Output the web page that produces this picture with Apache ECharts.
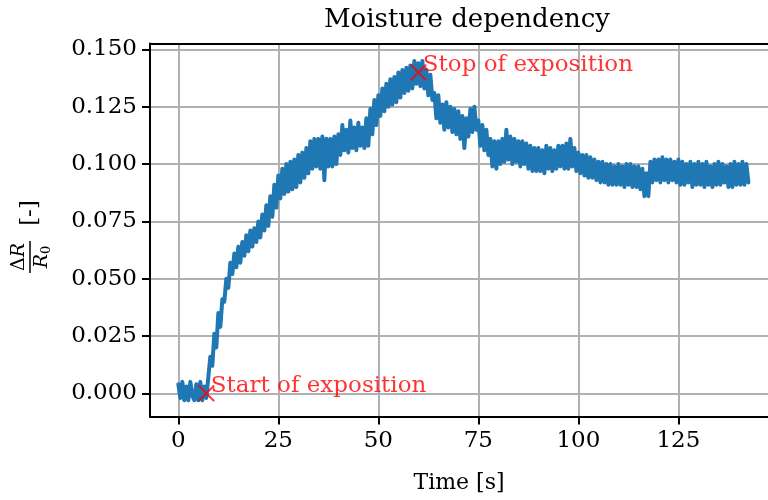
<!DOCTYPE html>
<html>
<head>
<meta charset="utf-8">
<script src="https://cdn.jsdelivr.net/npm/echarts@6/dist/echarts.min.js"></script>
<style>html,body{margin:0;padding:0;background:#fff;}#c{width:768px;height:500px;}</style>
</head>
<body>
<div id="c"></div>
<script>
// Sampling interval of the measurement [s]
const sampleStep = 0.5;
// ΔR/R0 readings, one every 0.5 s starting at t = 0 s (grouped by 10 s)
const dR_00 = [0.004,-0.002,0.005,-0.003,0.003,-0.003,0.005,-0.001,-0.003,0.004,-0.003,0.005,-0.003,0.003,-0.002,0.007,0.016,0.012,0.026,0.020];
const dR_10 = [0.035,0.029,0.041,0.040,0.050,0.046,0.057,0.052,0.061,0.055,0.064,0.057,0.066,0.060,0.069,0.062,0.071,0.064,0.072,0.066];
const dR_20 = [0.075,0.068,0.078,0.071,0.082,0.073,0.086,0.077,0.091,0.081,0.095,0.085,0.098,0.087,0.100,0.088,0.101,0.089,0.102,0.090];
const dR_30 = [0.104,0.092,0.105,0.094,0.107,0.096,0.110,0.098,0.111,0.099,0.111,0.098,0.112,0.093,0.111,0.099,0.111,0.099,0.112,0.100];
const dR_40 = [0.113,0.104,0.117,0.106,0.115,0.105,0.119,0.107,0.116,0.106,0.118,0.108,0.116,0.107,0.120,0.108,0.124,0.113,0.128,0.117];
const dR_50 = [0.130,0.121,0.133,0.123,0.135,0.125,0.137,0.126,0.138,0.127,0.140,0.129,0.141,0.131,0.142,0.132,0.143,0.133,0.145,0.135];
const dR_60 = [0.144,0.134,0.145,0.133,0.141,0.130,0.139,0.128,0.131,0.120,0.130,0.118,0.126,0.115,0.127,0.116,0.125,0.114,0.124,0.113];
const dR_70 = [0.123,0.111,0.121,0.107,0.120,0.112,0.124,0.114,0.125,0.115,0.119,0.108,0.117,0.106,0.115,0.104,0.111,0.099,0.110,0.098];
const dR_80 = [0.110,0.100,0.111,0.101,0.115,0.102,0.112,0.100,0.111,0.101,0.110,0.099,0.110,0.100,0.109,0.098,0.108,0.097,0.107,0.097];
const dR_90 = [0.107,0.097,0.106,0.096,0.108,0.098,0.107,0.097,0.106,0.098,0.108,0.099,0.108,0.098,0.109,0.098,0.111,0.099,0.107,0.097];
const dR_100 = [0.105,0.096,0.104,0.095,0.104,0.094,0.103,0.094,0.102,0.093,0.101,0.092,0.101,0.092,0.100,0.091,0.100,0.091,0.099,0.091];
const dR_110 = [0.100,0.091,0.099,0.090,0.100,0.091,0.100,0.090,0.099,0.090,0.099,0.089,0.098,0.086,0.096,0.086,0.101,0.092,0.102,0.093];
const dR_120 = [0.102,0.092,0.103,0.093,0.102,0.092,0.102,0.093,0.101,0.092,0.102,0.091,0.101,0.091,0.100,0.092,0.101,0.090,0.100,0.091];
const dR_130 = [0.101,0.091,0.100,0.090,0.101,0.091,0.099,0.090,0.100,0.091,0.101,0.091,0.100,0.092,0.099,0.090,0.100,0.090,0.101,0.091];
const dR_140 = [0.100,0.091,0.101,0.091,0.100,0.092];

// Annotated events
const eventNames = ['Start of exposition', 'Stop of exposition'];
const eventTimes = [7, 60];
const eventValues = [0.000, 0.140];

// Tick labels
const xTicks = [0, 25, 50, 75, 100, 125];
const yTicks = [0.000, 0.025, 0.050, 0.075, 0.100, 0.125, 0.150];

const readings = [].concat(dR_00, dR_10, dR_20, dR_30, dR_40, dR_50, dR_60, dR_70, dR_80, dR_90, dR_100, dR_110, dR_120, dR_130, dR_140);
const lineData = readings.map((v, i) => [i * sampleStep, v]);
const eventData = eventTimes.map((t, i) => ({ value: [t, eventValues[i]], name: eventNames[i] }));

const FONT = 'DejaVu Serif';
const XMIN = -7.08, XMAX = 147.4, YMIN = -0.0101, YMAX = 0.1526;

const chart = echarts.init(document.getElementById('c'), null, { renderer: 'canvas' });
chart.setOption({
  animation: false,
  backgroundColor: '#fff',
  title: {
    text: 'Moisture dependency',
    left: 462, top: 2, textAlign: 'center',
    textStyle: { fontFamily: FONT, fontSize: 26, fontWeight: 'normal', color: '#000' }
  },
  grid: { left: 150, right: 0, top: 43.5, bottom: 83.5, show: false },
  xAxis: [{
    type: 'value', min: XMIN, max: XMAX, position: 'bottom',
    name: 'Time [s]', nameLocation: 'middle', nameGap: 56,
    nameTextStyle: { fontFamily: FONT, fontSize: 22, color: '#000' },
    axisLine: { show: true, onZero: false, lineStyle: { color: '#000', width: 2 } },
    axisTick: { show: true, inside: false, length: 8, lineStyle: { color: '#000', width: 2 }, customValues: xTicks },
    axisLabel: { customValues: xTicks, margin: 13, fontFamily: FONT, fontSize: 23, color: '#000', showMinLabel: true, showMaxLabel: true },
    splitLine: { show: true, lineStyle: { color: '#b0b0b0', width: 2 } }
  }, {
    type: 'value', min: XMIN, max: XMAX, position: 'top',
    axisLine: { show: true, onZero: false, lineStyle: { color: '#000', width: 2 } },
    axisTick: { show: false }, axisLabel: { show: false }, splitLine: { show: false }
  }],
  yAxis: {
    type: 'value', min: YMIN, max: YMAX,
    axisLine: { show: true, onZero: false, lineStyle: { color: '#000', width: 2 } },
    axisTick: { show: true, inside: false, length: 8, lineStyle: { color: '#000', width: 2 }, customValues: yTicks },
    axisLabel: { customValues: yTicks, margin: 13, fontFamily: FONT, fontSize: 23, color: '#000', formatter: v => v.toFixed(3) },
    splitLine: { show: true, lineStyle: { color: '#b0b0b0', width: 2 } }
  },
  series: [{
    type: 'line', data: lineData, xAxisIndex: 0, showSymbol: false, symbol: 'none',
    lineStyle: { color: '#1f77b4', width: 4, join: 'round', cap: 'round' },
    z: 3, clip: true
  }, {
    type: 'scatter', data: eventData, xAxisIndex: 0, z: 5,
    symbol: 'path://M0,1.3L1.3,0L8,6.7L14.7,0L16,1.3L9.3,8L16,14.7L14.7,16L8,9.3L1.3,16L0,14.7L6.7,8Z',
    symbolSize: 17,
    itemStyle: { color: '#ff0000' },
    label: {
      show: true, position: 'right', distance: 5, offset: [-9, -7],
      formatter: p => p.name,
      fontFamily: FONT, fontSize: 23, color: '#ff0000'
    }
  }],
  graphic: [{
    type: 'group', x: 30, y: 257, rotation: Math.PI / 2,
    children: [
      { type: 'text', x: 0, y: -11, style: { text: '{d|Δ}{i|R}', rich: { d: { fontFamily: FONT, fontSize: 19 }, i: { fontFamily: FONT, fontStyle: 'italic', fontSize: 19 } }, fill: '#000', align: 'center', verticalAlign: 'middle' } },
      { type: 'line', shape: { x1: -16, y1: 0, x2: 16, y2: 0 }, style: { stroke: '#000', lineWidth: 1.5 } },
      { type: 'text', x: 0, y: 12, style: { text: '{i|R}{s|0}', rich: { i: { fontFamily: FONT, fontStyle: 'italic', fontSize: 19 }, s: { fontFamily: FONT, fontSize: 13, padding: [9, 0, 0, 0] } }, fill: '#000', align: 'center', verticalAlign: 'middle' } },
      { type: 'text', x: 44, y: 0, style: { text: '[-]', fontFamily: FONT, fontSize: 23, fill: '#000', align: 'center', verticalAlign: 'middle' } }
    ]
  }]
});
</script>
</body>
</html>
